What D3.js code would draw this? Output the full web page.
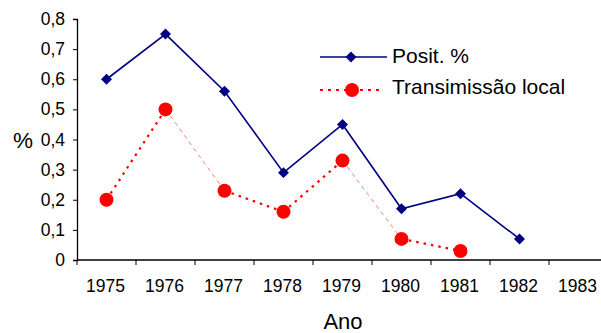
<!DOCTYPE html>
<html>
<head>
<meta charset="utf-8">
<script src="https://cdn.jsdelivr.net/npm/d3@7"></script>
<style>
  html, body { margin: 0; padding: 0; background: #fff; }
  svg { display: block; font-family: "Liberation Sans", Arial, sans-serif; }
</style>
</head>
<body>
<svg id="chart" width="601" height="333"></svg>
<script>
// Anos e percentuais
const years = ["1975", "1976", "1977", "1978", "1979", "1980", "1981", "1982", "1983"];
const positValues = [0.60, 0.75, 0.56, 0.29, 0.45, 0.17, 0.22, 0.07];
const transValues = [0.20, 0.50, 0.23, 0.16, 0.33, 0.07, 0.03];
const yTicks = [0, 0.1, 0.2, 0.3, 0.4, 0.5, 0.6, 0.7, 0.8];
const seriesNames = ["Posit. %", "Transimissão local"];

const svg = d3.select("#chart");
const plotLeft = 77, plotTop = 19, plotBottom = 260, plotRight = 608;

const x = d3.scaleBand().domain(years).range([plotLeft, plotRight]).padding(0);
const y = d3.scaleLinear().domain([0, 0.8]).range([plotBottom, plotTop]);
const cx = (i) => x(years[i]) + x.bandwidth() / 2;

const fmt = (d) => d === 0 ? "0" : d3.format(".1f")(d).replace(".", ",");

// Eixo Y
const yAxis = svg.append("g")
  .attr("transform", `translate(${plotLeft},0)`)
  .call(d3.axisLeft(y).tickValues(yTicks).tickFormat(fmt).tickSize(4).tickPadding(8));
yAxis.select(".domain").attr("stroke", "#000").attr("stroke-width", 1.3);
yAxis.selectAll(".tick line").attr("stroke", "#000");
yAxis.selectAll("text").attr("font-size", 17.5).attr("fill", "#000")
  .attr("font-family", "Liberation Sans, Arial, sans-serif");

// Eixo X (ticks nas divisões das categorias)
const xAxis = svg.append("g")
  .attr("transform", `translate(0,${plotBottom})`);
xAxis.append("line")
  .attr("x1", plotLeft).attr("x2", plotRight).attr("y1", 0).attr("y2", 0)
  .attr("stroke", "#000").attr("stroke-width", 1.3);
xAxis.selectAll("line.tk").data(years).enter().append("line")
  .attr("class", "tk")
  .attr("x1", d => x(d)).attr("x2", d => x(d))
  .attr("y1", 0).attr("y2", 5).attr("stroke", "#000");
xAxis.selectAll("text").data(years).enter().append("text")
  .attr("x", d => x(d) + x.bandwidth() / 2 - 1)
  .attr("y", 32)
  .attr("text-anchor", "middle")
  .attr("font-size", 17.5)
  .text(d => d);

// Títulos dos eixos
svg.append("text").attr("x", 23).attr("y", 148).attr("text-anchor", "middle")
  .attr("font-size", 22.5).text("%");
svg.append("text").attr("x", 343).attr("y", 329).attr("text-anchor", "middle")
  .attr("font-size", 22).text("Ano");

// Série azul
const blue = "#000080";
const line = d3.line().x((d, i) => cx(i)).y(d => y(d));
svg.append("path").datum(positValues)
  .attr("d", line).attr("fill", "none")
  .attr("stroke", blue).attr("stroke-width", 1.6);

const diamond = d3.symbol().type(d3.symbolSquare).size(60);
svg.selectAll("path.pos").data(positValues).enter().append("path")
  .attr("class", "pos")
  .attr("d", diamond)
  .attr("transform", (d, i) => `translate(${cx(i)},${y(d)}) rotate(45)`)
  .attr("fill", blue);

// Série vermelha: segmentos pontilhados; os de descida íngreme saem finos
const red = "#ff0000";
const segs = d3.pairs(transValues.map((v, i) => [cx(i), y(v)]));
segs.forEach(([a, b]) => {
  const slope = (b[1] - a[1]) / (b[0] - a[0]);
  const steepDown = slope > 1;
  svg.append("line")
    .attr("x1", a[0]).attr("y1", a[1]).attr("x2", b[0]).attr("y2", b[1])
    .attr("stroke", steepDown ? "#ff6a6a" : red)
    .attr("stroke-width", steepDown ? 0.9 : 2.2)
    .attr("stroke-dasharray", steepDown ? "4,4" : "2.5,5");
});
svg.selectAll("circle.tr").data(transValues).enter().append("circle")
  .attr("class", "tr")
  .attr("cx", (d, i) => cx(i)).attr("cy", d => y(d))
  .attr("r", 7).attr("fill", red);

// Legenda
const lg = svg.append("g");
lg.append("line").attr("x1", 320).attr("x2", 387).attr("y1", 57).attr("y2", 57)
  .attr("stroke", blue).attr("stroke-width", 1.6);
lg.append("path").attr("d", diamond)
  .attr("transform", "translate(351,57) rotate(45)").attr("fill", blue);
lg.append("text").attr("x", 392).attr("y", 63).attr("font-size", 21).text(seriesNames[0]);

lg.append("line").attr("x1", 320).attr("x2", 384).attr("y1", 90).attr("y2", 90)
  .attr("stroke", red).attr("stroke-width", 2.2).attr("stroke-dasharray", "3,5");
lg.append("circle").attr("cx", 352).attr("cy", 90).attr("r", 7).attr("fill", red);
lg.append("text").attr("x", 392).attr("y", 94).attr("font-size", 21).text(seriesNames[1]);
</script>
</body>
</html>
